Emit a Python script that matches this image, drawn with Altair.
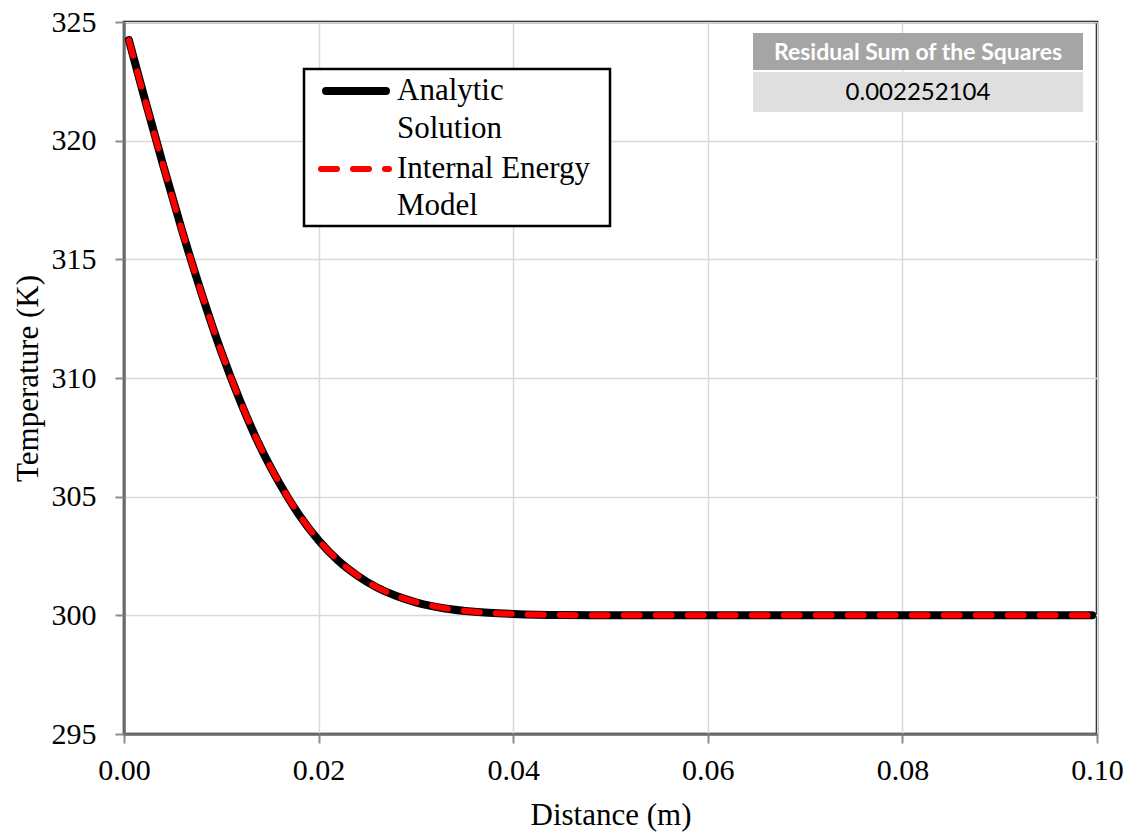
import altair as alt
import pandas as pd

# ---- data ----
distance = [0.0005, 0.002, 0.004, 0.006, 0.008, 0.010, 0.012, 0.014, 0.016, 0.018,
            0.020, 0.022, 0.024, 0.026, 0.028, 0.030, 0.033, 0.036, 0.040, 0.045,
            0.050, 0.060, 0.070, 0.080, 0.090, 0.0995]
analytic = [324.24, 321.96, 319.00, 316.17, 313.53, 311.10, 308.97, 307.10, 305.55, 304.23,
            303.16, 302.31, 301.67, 301.17, 300.81, 300.55, 300.29, 300.15, 300.06, 300.01,
            300.00, 300.00, 300.00, 300.00, 300.00, 300.00]
model = [324.23, 321.95, 319.00, 316.16, 313.53, 311.10, 308.98, 307.11, 305.56, 304.24,
         303.17, 302.32, 301.68, 301.18, 300.82, 300.56, 300.30, 300.15, 300.06, 300.01,
         300.00, 300.00, 300.00, 300.00, 300.00, 300.00]
series_names = ["Analytic Solution", "Internal Energy Model"]
legend_lines = [["Analytic", "Solution"], ["Internal Energy", "Model"]]
x_ticks = [0.0, 0.02, 0.04, 0.06, 0.08, 0.10]
y_ticks = [295, 300, 305, 310, 315, 320, 325]
rss_label = "Residual Sum of the Squares"
rss_value = "0.002252104"

df = pd.DataFrame({
    "Distance": distance * 2,
    "Temperature": analytic + model,
    "Series": [series_names[0]] * len(distance) + [series_names[1]] * len(distance),
})

SERIF = "Liberation Serif"
axis_common = dict(
    labelFont=SERIF, labelFontSize=30, labelColor="black",
    titleFont=SERIF, titleFontSize=31, titleFontWeight="normal", titleColor="black",
    domainColor="#707070", domainWidth=2.5,
    tickColor="#8c8c8c", tickSize=9, tickWidth=2,
    gridColor="#d9d9d9", gridWidth=1.5, labelFlush=False, labelOverlap=False,
)

x_enc = alt.X("Distance:Q", scale=alt.Scale(domain=[0, 0.1], nice=False),
              axis=alt.Axis(values=x_ticks, format=".2f", title="Distance (m)",
                            labelPadding=12, titleY=81, titleBaseline="middle", **axis_common))
y_enc = alt.Y("Temperature:Q", scale=alt.Scale(domain=[295, 325], nice=False, zero=False),
              axis=alt.Axis(values=y_ticks, title="Temperature (K)", labelPadding=19,
                            titleX=-96, titleBaseline="middle", **axis_common))

base = alt.Chart(df)
black_line = base.transform_filter(alt.datum.Series == series_names[0]).mark_line(
    color="black", strokeWidth=8, strokeCap="round", strokeJoin="round", interpolate="monotone"
).encode(x=x_enc, y=y_enc)
red_line = base.transform_filter(alt.datum.Series == series_names[1]).mark_line(
    color="#ff0000", strokeWidth=6, strokeCap="round", strokeJoin="round",
    strokeDash=[16, 16], interpolate="monotone"
).encode(x=x_enc, y=y_enc)

one = pd.DataFrame({"a": [0]})
pix = alt.Chart(one)

# legend box
leg_box = pix.mark_rect(fill="white", stroke="black", strokeWidth=2.5).encode(
    x=alt.value(180), x2=alt.value(486), y=alt.value(47), y2=alt.value(204))
leg_sym1 = pix.mark_rule(color="black", strokeWidth=8, strokeCap="round").encode(
    x=alt.value(202), x2=alt.value(262), y=alt.value(69))
leg_sym2 = pix.mark_rule(color="#ff0000", strokeWidth=6, strokeCap="round", strokeDash=[16, 16]).encode(
    x=alt.value(197), x2=alt.value(265), y=alt.value(147))
leg_texts = []
for lines, ys in zip(legend_lines, [(78, 116), (156, 193)]):
    for line, yy in zip(lines, ys):
        leg_texts.append(pix.mark_text(text=line, font=SERIF, fontSize=31, align="left",
                                       baseline="alphabetic", color="black").encode(
            x=alt.value(273), y=alt.value(yy)))

# residual table
tab_head = pix.mark_rect(fill="#a5a5a5").encode(
    x=alt.value(629), x2=alt.value(959), y=alt.value(11), y2=alt.value(48))
tab_row = pix.mark_rect(fill="#dfdfdf").encode(
    x=alt.value(629), x2=alt.value(959), y=alt.value(50), y2=alt.value(90))
tab_head_txt = pix.mark_text(text=rss_label, font="Lato", fontSize=23, fontWeight="bold",
                             color="white", align="center", baseline="middle").encode(
    x=alt.value(794), y=alt.value(31))
tab_val_txt = pix.mark_text(text=rss_value, font="Lato", fontSize=24, color="black",
                            align="center", baseline="middle").encode(
    x=alt.value(794), y=alt.value(71))

chart = alt.layer(
    black_line, red_line, leg_box, leg_sym1, leg_sym2, *leg_texts,
    tab_head, tab_row, tab_head_txt, tab_val_txt
).properties(
    width=973, height=712,
    padding={"left": 124, "top": 22, "right": 36, "bottom": 104},
    autosize=alt.AutoSizeParams(type="none"),
).configure_view(
    stroke="black", strokeWidth=2.5
).configure_axis(**axis_common)

chart.save("out.html", embed_options={"renderer": "svg", "actions": False})
